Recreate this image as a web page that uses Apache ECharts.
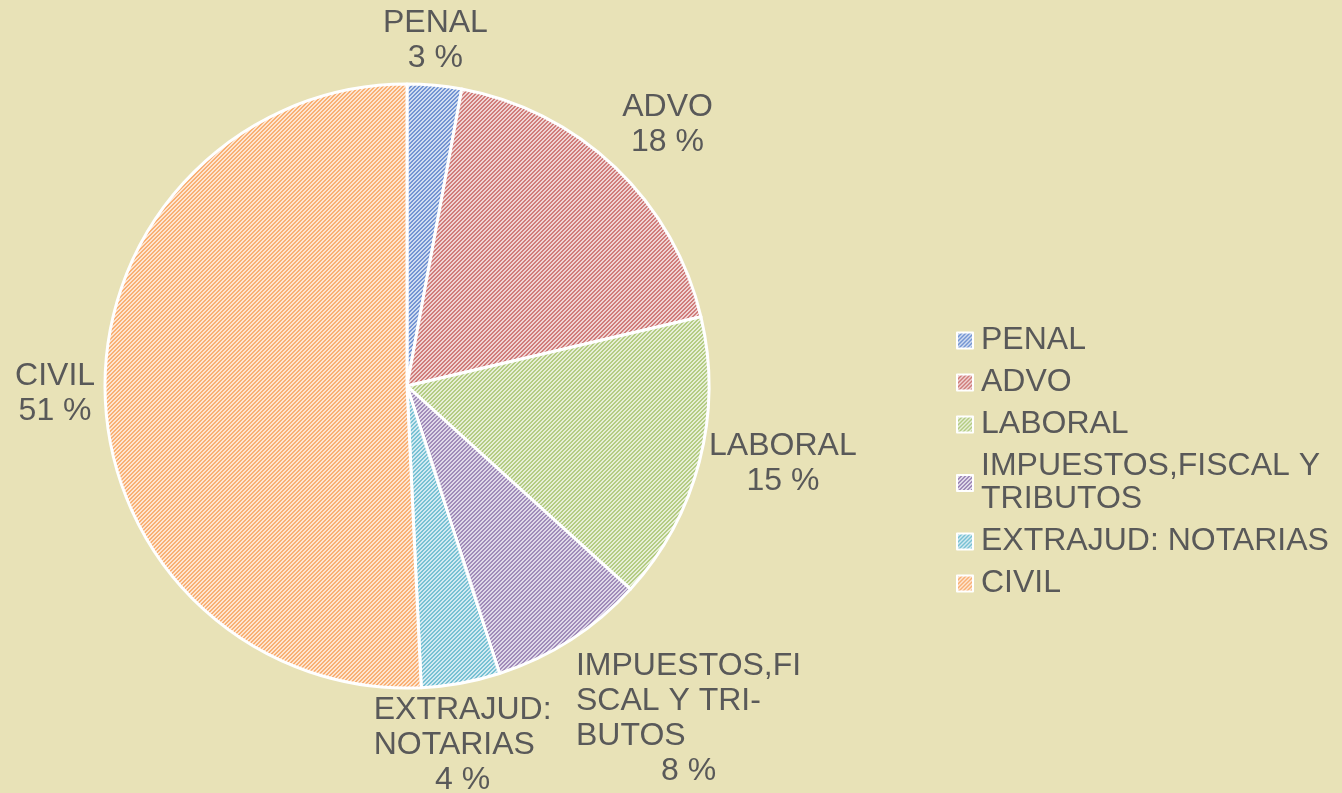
<!DOCTYPE html>
<html lang="es">
<head>
  <meta charset="utf-8">
</head>
<body style="height: 100%; margin: 0; background: #E8E2B7">
  <div id="container" style="width: 1342px; height: 793px"></div>

  <script src="https://cdn.jsdelivr.net/npm/echarts@6/dist/echarts.min.js"></script>

  <script>
    // datos
    var names = ['PENAL', 'ADVO', 'LABORAL', 'IMPUESTOS,FISCAL Y TRIBUTOS', 'EXTRAJUD: NOTARIAS', 'CIVIL'];
    var values = [2.9, 18.4, 15.4, 8.3, 4.2, 50.7];
    var colors = ['#4472C4', '#C0504D', '#9BBB59', '#8064A2', '#4BACC6', '#F79646'];
    // como se parte el texto de cada etiqueta
    var labelLines = [['PENAL'], ['ADVO'], ['LABORAL'], ['IMPUESTOS,FI', 'SCAL Y TRI-', 'BUTOS'], ['EXTRAJUD:', 'NOTARIAS'], ['CIVIL']];
    var legendLines = [['PENAL'], ['ADVO'], ['LABORAL'], ['IMPUESTOS,FISCAL Y', 'TRIBUTOS'], ['EXTRAJUD: NOTARIAS'], ['CIVIL']];

    var center = [407, 386];
    var radius = 302;

    // trama rayada tipo excel
    function mix(hex, t) {
      var r = parseInt(hex.slice(1, 3), 16), g = parseInt(hex.slice(3, 5), 16), b = parseInt(hex.slice(5, 7), 16);
      return 'rgb(' + Math.round(r + (255 - r) * t) + ',' + Math.round(g + (255 - g) * t) + ',' + Math.round(b + (255 - b) * t) + ')';
    }
    function hatch(hex) {
      var c = document.createElement('canvas');
      c.width = 4; c.height = 4;
      var ctx = c.getContext('2d');
      for (var x = 0; x < 4; x++) {
        for (var y = 0; y < 4; y++) {
          ctx.fillStyle = ((x + y) % 4 < 2) ? mix(hex, 0.25) : mix(hex, 0.75);
          ctx.fillRect(x, y, 1, 1);
        }
      }
      return { image: c, repeat: 'repeat' };
    }

    var total = values.reduce(function (a, b) { return a + b; }, 0);
    var midAngles = [];
    var acc = 0;
    values.forEach(function (v) {
      midAngles.push((acc + v / 2) / total * 2 * Math.PI);
      acc += v;
    });

    function clamp(v) { return Math.max(0, Math.min(1, v)); }

    var dom = document.getElementById('container');
    var myChart = echarts.init(dom, null, { renderer: 'canvas' });

    var option = {
      backgroundColor: '#E8E2B7',
      animation: false,
      legend: {
        orient: 'vertical',
        left: 956,
        top: 324,
        padding: 0,
        itemWidth: 16,
        itemHeight: 16,
        itemGap: 9,
        icon: 'rect',
        textStyle: { fontFamily: 'Liberation Sans, Arial', fontSize: 32, color: '#595959', lineHeight: 33, padding: [0, 0, 0, 3] },
        formatter: function (name) {
          return legendLines[names.indexOf(name)].join('\n');
        },
        data: names
      },
      series: [
        {
          type: 'pie',
          center: center,
          radius: radius,
          startAngle: 90,
          clockwise: true,
          data: names.map(function (n, i) {
            return { name: n, value: values[i], itemStyle: { color: hatch(colors[i]) } };
          }),
          itemStyle: { borderColor: '#ffffff', borderWidth: 3 },
          emphasis: { disabled: true },
          labelLine: { show: false },
          label: {
            show: true,
            position: 'inside',
            overflow: 'none',
            fontFamily: 'Liberation Sans, Arial',
            fontSize: 32,
            lineHeight: 35,
            color: '#595959',
            formatter: function (p) {
              var lines = labelLines[p.dataIndex];
              var multi = lines.length > 1;
              var out = lines.map(function (l) { return '{' + (multi ? 'n' : 'c') + '|' + l + '}'; });
              out.push('{c|' + Math.round(p.percent) + ' %}');
              return out.join('\n');
            },
            rich: {
              n: { align: 'left', fontFamily: 'Liberation Sans, Arial', fontSize: 32, lineHeight: 35, color: '#595959' },
              c: { align: 'center', fontFamily: 'Liberation Sans, Arial', fontSize: 32, lineHeight: 35, color: '#595959' }
            }
          },
          // etiqueta fuera del circulo, con la esquina mas cercana sobre el radio medio
          labelLayout: function (params) {
            var a = midAngles[params.dataIndex];
            var dx = Math.sin(a), dy = -Math.cos(a);
            var w = params.labelRect.width, h = params.labelRect.height;
            var px = center[0] + dx * (radius + 10);
            var py = center[1] + dy * (radius + 10);
            var ax = Math.sign(dx) * clamp((Math.abs(dx) - 0.2) / 0.3);
            var ay = Math.sign(dy) * clamp((Math.abs(dy) - 0.3) / 0.3);
            return {
              x: px + ax * w / 2,
              y: py + ay * h / 2,
              align: 'center',
              verticalAlign: 'middle'
            };
          }
        }
      ]
    };

    myChart.setOption(option);
    window.addEventListener('resize', myChart.resize);
  </script>
</body>
</html>
